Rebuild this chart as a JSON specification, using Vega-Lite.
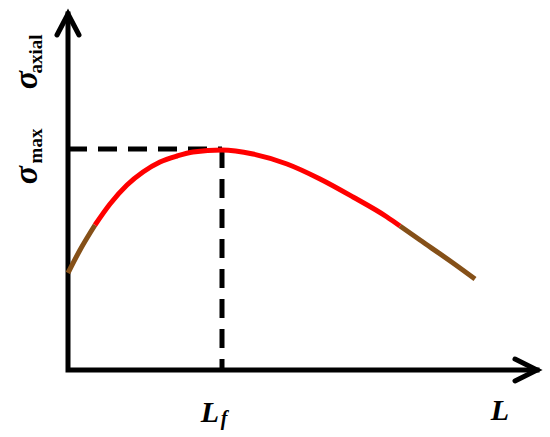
{
  "$schema": "https://vega.github.io/schema/vega-lite/v6.json",
  "width": 550,
  "height": 437,
  "padding": 0,
  "autosize": "none",
  "background": "white",
  "config": {"view": {"stroke": null}},
  "layer": [
    {
      "data": {"values": [
        {"x": 0, "y": 3.56, "g": "yaxis", "o": 1},
        {"x": 0, "y": 0, "g": "yaxis", "o": 2},
        {"x": 4.69, "y": 0, "g": "yaxis", "o": 3}
      ]},
      "mark": {"type": "line", "color": "black", "strokeWidth": 5, "strokeCap": "square", "strokeJoin": "miter"},
      "encoding": {
        "x": {"field": "x", "type": "quantitative", "scale": {"domain": [-0.68, 4.82], "nice": false, "zero": false}, "axis": null},
        "y": {"field": "y", "type": "quantitative", "scale": {"domain": [-0.67, 3.70], "nice": false, "zero": false}, "axis": null},
        "order": {"field": "o"},
        "detail": {"field": "g"}
      }
    },
    {
      "data": {"values": [
        {"x": -0.11, "y": 3.35, "g": "ya", "o": 1},
        {"x": 0, "y": 3.56, "g": "ya", "o": 2},
        {"x": 0.11, "y": 3.35, "g": "ya", "o": 3},
        {"x": 4.47, "y": 0.11, "g": "xa", "o": 1},
        {"x": 4.69, "y": 0, "g": "xa", "o": 2},
        {"x": 4.47, "y": -0.11, "g": "xa", "o": 3}
      ]},
      "mark": {"type": "line", "color": "black", "strokeWidth": 5, "strokeCap": "round", "strokeJoin": "miter"},
      "encoding": {
        "x": {"field": "x", "type": "quantitative"},
        "y": {"field": "y", "type": "quantitative"},
        "order": {"field": "o"},
        "detail": {"field": "g"}
      }
    },
    {
      "data": {"values": [
        {"x": 0, "y": 2.21, "g": "h", "o": 1},
        {"x": 1.54, "y": 2.21, "g": "h", "o": 2},
        {"x": 1.54, "y": 2.21, "g": "v", "o": 1},
        {"x": 1.54, "y": 0, "g": "v", "o": 2}
      ]},
      "mark": {"type": "line", "color": "black", "strokeWidth": 5, "strokeDash": [19, 11], "strokeCap": "butt"},
      "encoding": {
        "x": {"field": "x", "type": "quantitative"},
        "y": {"field": "y", "type": "quantitative"},
        "order": {"field": "o"},
        "detail": {"field": "g"}
      }
    },
    {
      "data": {"values": [
        {"x": 0, "y": 0.97, "seg": "a"},
        {"x": 0.12, "y": 1.2, "seg": "a"},
        {"x": 0.27, "y": 1.45, "seg": "a"},
        {"x": 0.27, "y": 1.45, "seg": "b"},
        {"x": 0.42, "y": 1.66, "seg": "b"},
        {"x": 0.59, "y": 1.85, "seg": "b"},
        {"x": 0.75, "y": 1.98, "seg": "b"},
        {"x": 0.92, "y": 2.08, "seg": "b"},
        {"x": 1.09, "y": 2.14, "seg": "b"},
        {"x": 1.25, "y": 2.18, "seg": "b"},
        {"x": 1.54, "y": 2.2, "seg": "b"},
        {"x": 1.85, "y": 2.16, "seg": "b"},
        {"x": 2.19, "y": 2.06, "seg": "b"},
        {"x": 2.52, "y": 1.91, "seg": "b"},
        {"x": 2.85, "y": 1.73, "seg": "b"},
        {"x": 3.19, "y": 1.53, "seg": "b"},
        {"x": 3.32, "y": 1.44, "seg": "b"},
        {"x": 3.32, "y": 1.44, "seg": "c"},
        {"x": 3.52, "y": 1.3, "seg": "c"},
        {"x": 3.85, "y": 1.07, "seg": "c"},
        {"x": 4.07, "y": 0.91, "seg": "c"}
      ]},
      "mark": {"type": "line", "strokeWidth": 5, "interpolate": "monotone", "strokeCap": "butt"},
      "encoding": {
        "x": {"field": "x", "type": "quantitative"},
        "y": {"field": "y", "type": "quantitative"},
        "color": {"field": "seg", "type": "nominal", "scale": {"domain": ["a", "b", "c"], "range": ["#855018", "#ff0000", "#855018"]}, "legend": null}
      }
    },
    {
      "data": {"values": [
        {"x": -0.31, "y": 2.9, "t": "σ"},
        {"x": -0.31, "y": 1.95, "t": "σ"}
      ]},
      "mark": {"type": "text", "font": "Liberation Serif", "fontSize": 34, "fontWeight": "bold", "fontStyle": "italic", "angle": 270, "align": "center", "baseline": "alphabetic", "color": "black"},
      "encoding": {
        "x": {"field": "x", "type": "quantitative"},
        "y": {"field": "y", "type": "quantitative"},
        "text": {"field": "t"}
      }
    },
    {
      "data": {"values": [
        {"x": -0.26, "y": 3.16, "t": "axial"},
        {"x": -0.26, "y": 2.24, "t": "max"}
      ]},
      "mark": {"type": "text", "font": "Liberation Serif", "fontSize": 19, "fontWeight": "bold", "angle": 270, "align": "center", "baseline": "alphabetic", "color": "black"},
      "encoding": {
        "x": {"field": "x", "type": "quantitative"},
        "y": {"field": "y", "type": "quantitative"},
        "text": {"field": "t"}
      }
    },
    {
      "data": {"values": [
        {"x": 1.42, "y": -0.52, "t": "L"},
        {"x": 4.32, "y": -0.5, "t": "L"}
      ]},
      "mark": {"type": "text", "font": "Liberation Serif", "fontSize": 30, "fontWeight": "bold", "fontStyle": "italic", "align": "center", "baseline": "alphabetic", "color": "black"},
      "encoding": {
        "x": {"field": "x", "type": "quantitative"},
        "y": {"field": "y", "type": "quantitative"},
        "text": {"field": "t"}
      }
    },
    {
      "data": {"values": [
        {"x": 1.56, "y": -0.55, "t": "f"}
      ]},
      "mark": {"type": "text", "font": "Liberation Serif", "fontSize": 20, "fontWeight": "bold", "fontStyle": "italic", "align": "center", "baseline": "alphabetic", "color": "black"},
      "encoding": {
        "x": {"field": "x", "type": "quantitative"},
        "y": {"field": "y", "type": "quantitative"},
        "text": {"field": "t"}
      }
    }
  ]
}
